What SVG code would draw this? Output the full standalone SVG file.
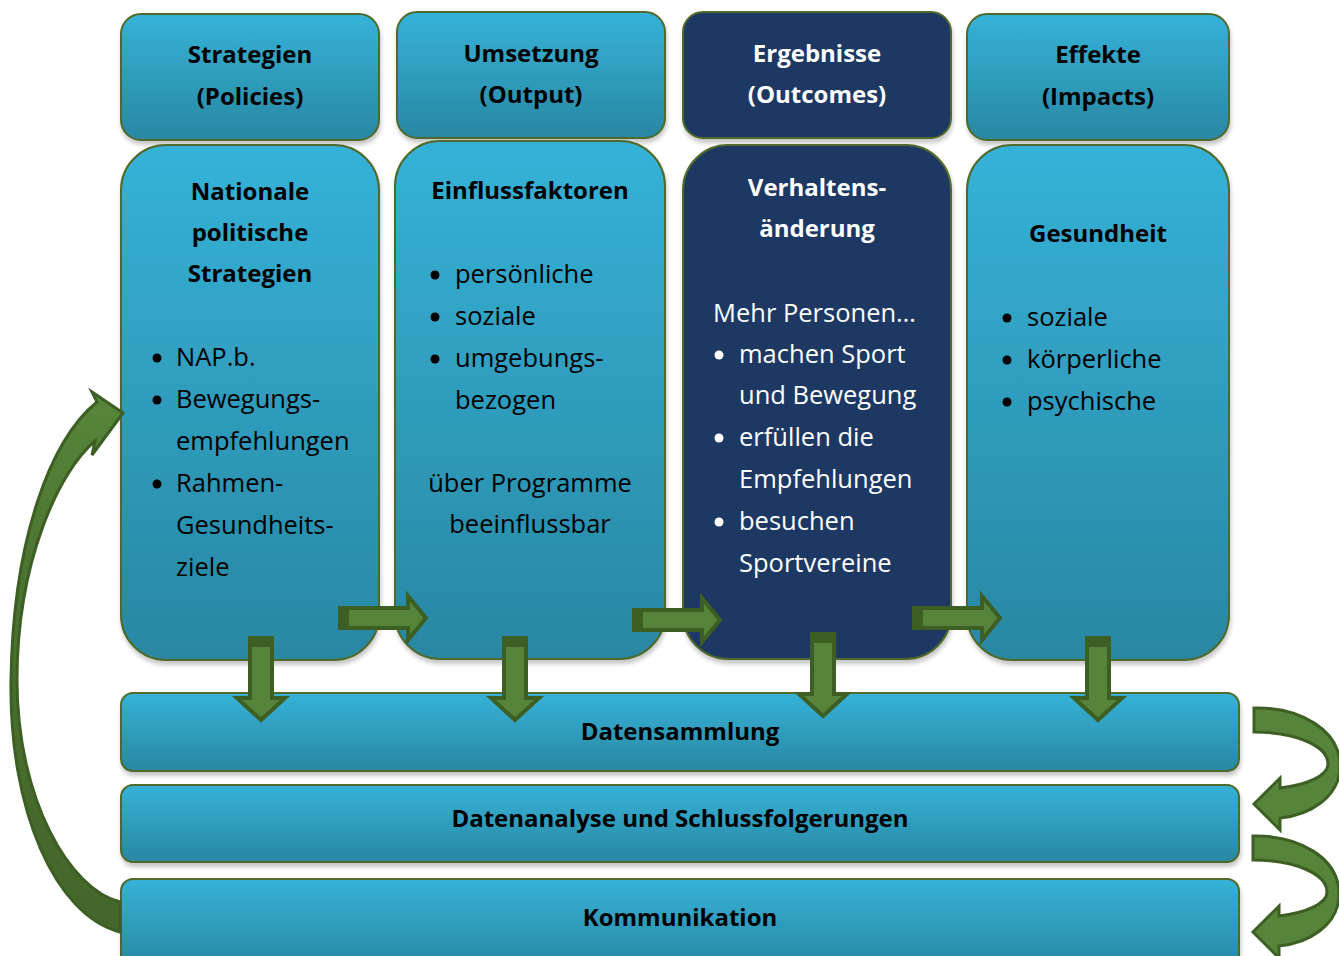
<svg xmlns="http://www.w3.org/2000/svg" width="1339" height="956" viewBox="0 0 1339 956">
  <defs>
    <linearGradient id="blue" x1="0" y1="0" x2="0" y2="1">
      <stop offset="0" stop-color="#35b2d8"/>
      <stop offset="1" stop-color="#2987a2"/>
    </linearGradient>
    <linearGradient id="loopFill" gradientUnits="userSpaceOnUse" x1="0" y1="400" x2="0" y2="935">
      <stop offset="0" stop-color="#56853a"/>
      <stop offset="0.35" stop-color="#4b7330"/>
      <stop offset="1" stop-color="#44662a"/>
    </linearGradient>
    <filter id="shadow" x="-5%" y="-5%" width="110%" height="115%">
      <feDropShadow dx="1" dy="4" stdDeviation="2" flood-color="#000" flood-opacity="0.22"/>
    </filter>
    <!-- straight block arrow pointing right, origin at tail centre -->
    <g id="arrowRight">
      <polygon points="2,-10 70,-10 70,-22 88,0 70,22 70,10 2,10" class="arrow"/>
      <rect x="0" y="-12" width="11" height="24" fill="#3e5f24"/>
    </g>
    <!-- straight block arrow pointing down, origin at tail centre -->
    <g id="arrowDown">
      <polygon points="-11,2 11,2 11,62 24,62 0,84 -24,62 -11,62" class="arrow"/>
      <rect x="-13" y="0" width="26" height="11" fill="#3e5f24"/>
    </g>
    <!-- curved return arrow on the right side -->
    <path id="loopRight" d="M1254,708 C1300,707 1340,730 1340,766 C1340,797 1310,815 1280,818 L1280,830 L1254,804 L1280,778 L1280,788 C1306,785 1328,776 1328,764 C1328,746 1296,732 1254,732 Z"/>
  </defs>
  <style>
    .box { fill: url(#blue); stroke: #4f6a2a; stroke-width: 2; filter: url(#shadow); }
    .dark { fill: #1f3864; stroke: #4f6a2a; stroke-width: 2; filter: url(#shadow); }
    .arrow { fill: #56843a; stroke: #3e5f24; stroke-width: 4; stroke-linejoin: miter; }
    .loop { fill: #56843a; stroke: #3e5f24; stroke-width: 3; stroke-linejoin: miter; }
    text { font-family: "Open Sans", "Liberation Sans", sans-serif; font-size: 25.5px; fill: #000; }
    .b { font-weight: bold; font-size: 24px; }
    .c { text-anchor: middle; }
    .w { fill: #fff; }
    .dot { fill: #000; }
    .wdot { fill: #fff; }
  </style>

  <!-- column: policies -->
  <g id="policies">
    <rect class="box" x="121" y="14" width="258" height="126" rx="20"/>
    <text class="b c" x="250" y="63">Strategien</text>
    <text class="b c" x="250" y="105">(Policies)</text>
  </g>
  <g id="national-strategies">
    <rect class="box" x="121" y="145" width="258" height="515" rx="45"/>
    <text class="b c" x="250" y="200">Nationale</text>
    <text class="b c" x="250" y="241">politische</text>
    <text class="b c" x="250" y="282">Strategien</text>
    <circle class="dot" cx="157" cy="358" r="4.5"/>
    <text x="176" y="366">NAP.b.</text>
    <circle class="dot" cx="157" cy="400" r="4.5"/>
    <text x="176" y="408">Bewegungs-</text>
    <text x="176" y="450">empfehlungen</text>
    <circle class="dot" cx="157" cy="484" r="4.5"/>
    <text x="176" y="492">Rahmen-</text>
    <text x="176" y="534">Gesundheits-</text>
    <text x="176" y="576">ziele</text>
  </g>

  <!-- column: output -->
  <g id="output">
    <rect class="box" x="397" y="12" width="268" height="126" rx="20"/>
    <text class="b c" x="531" y="62">Umsetzung</text>
    <text class="b c" x="531" y="103">(Output)</text>
  </g>
  <g id="influencing-factors">
    <rect class="box" x="395" y="141" width="270" height="518" rx="45"/>
    <text class="b c" x="530" y="199">Einflussfaktoren</text>
    <circle class="dot" cx="435" cy="275" r="4.5"/>
    <text x="455" y="283">persönliche</text>
    <circle class="dot" cx="435" cy="317" r="4.5"/>
    <text x="455" y="325">soziale</text>
    <circle class="dot" cx="435" cy="359" r="4.5"/>
    <text x="455" y="367">umgebungs-</text>
    <text x="455" y="409">bezogen</text>
    <text class="c" x="530" y="492">über Programme</text>
    <text class="c" x="530" y="533">beeinflussbar</text>
  </g>

  <!-- column: outcomes -->
  <g id="outcomes">
    <rect class="dark" x="683" y="12" width="268" height="126" rx="20"/>
    <text class="b c w" x="817" y="62">Ergebnisse</text>
    <text class="b c w" x="817" y="103">(Outcomes)</text>
  </g>
  <g id="behaviour-change">
    <rect class="dark" x="683" y="145" width="268" height="514" rx="45"/>
    <text class="b c w" x="817" y="196">Verhaltens-</text>
    <text class="b c w" x="817" y="237">änderung</text>
    <text class="w" x="713" y="322">Mehr Personen…</text>
    <circle class="wdot" cx="719" cy="355" r="4.5"/>
    <text class="w" x="739" y="363">machen Sport</text>
    <text class="w" x="739" y="404">und Bewegung</text>
    <circle class="wdot" cx="719" cy="438" r="4.5"/>
    <text class="w" x="739" y="446">erfüllen die</text>
    <text class="w" x="739" y="488">Empfehlungen</text>
    <circle class="wdot" cx="719" cy="522" r="4.5"/>
    <text class="w" x="739" y="530">besuchen</text>
    <text class="w" x="739" y="572">Sportvereine</text>
  </g>

  <!-- column: impacts -->
  <g id="impacts">
    <rect class="box" x="967" y="14" width="262" height="126" rx="20"/>
    <text class="b c" x="1098" y="63">Effekte</text>
    <text class="b c" x="1098" y="105">(Impacts)</text>
  </g>
  <g id="health">
    <rect class="box" x="967" y="145" width="262" height="515" rx="45"/>
    <text class="b c" x="1098" y="242">Gesundheit</text>
    <circle class="dot" cx="1007" cy="318" r="4.5"/>
    <text x="1027" y="326">soziale</text>
    <circle class="dot" cx="1007" cy="360" r="4.5"/>
    <text x="1027" y="368">körperliche</text>
    <circle class="dot" cx="1007" cy="402" r="4.5"/>
    <text x="1027" y="410">psychische</text>
  </g>

  <!-- horizontal process bars -->
  <g id="data-collection">
    <rect class="box" x="121" y="693" width="1118" height="78" rx="12"/>
    <text class="b c" x="680" y="740">Datensammlung</text>
  </g>
  <g id="data-analysis">
    <rect class="box" x="121" y="785" width="1118" height="77" rx="12"/>
    <text class="b c" x="680" y="827">Datenanalyse und Schlussfolgerungen</text>
  </g>
  <g id="communication">
    <rect class="box" x="121" y="879" width="1118" height="90" rx="12"/>
    <text class="b c" x="680" y="926">Kommunikation</text>
  </g>

  <!-- connectors -->
  <g id="connectors">
    <use href="#arrowRight" transform="translate(338,618)"/>
    <use href="#arrowRight" transform="translate(632,620)"/>
    <use href="#arrowRight" transform="translate(912,618)"/>
    <use href="#arrowDown" transform="translate(261,636)"/>
    <use href="#arrowDown" transform="translate(515,636)"/>
    <use href="#arrowDown" transform="translate(823,632)"/>
    <use href="#arrowDown" transform="translate(1098,636)"/>
    <use href="#loopRight" class="loop"/>
    <use href="#loopRight" class="loop" transform="translate(-1,128)"/>
    <path class="loop" style="fill:url(#loopFill)" d="M123,413 L92,392 L97,402 C50,440 13,540 11,680 C9,810 55,915 120,932 L120,902 C70,890 17,800 17,680 C17,560 60,470 95,441 L92,455 Z"/>
  </g>
</svg>
